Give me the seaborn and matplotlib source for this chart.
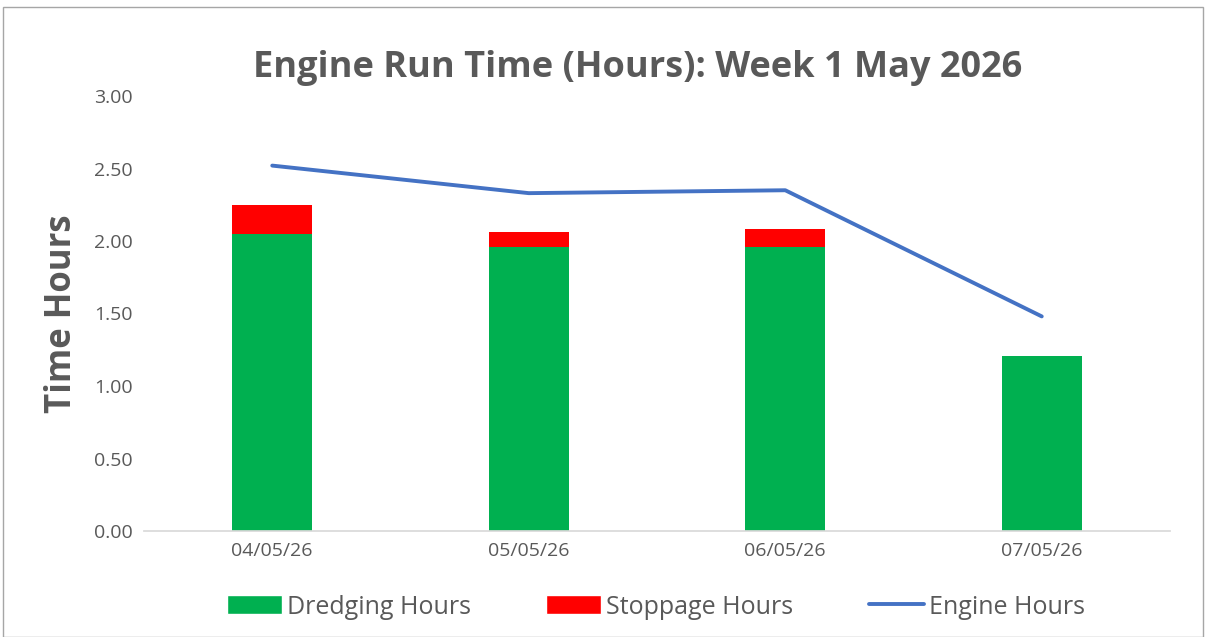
import matplotlib
matplotlib.use("Agg")
import matplotlib.pyplot as plt
from matplotlib.patches import Patch, Rectangle
from matplotlib.lines import Line2D
import seaborn as sns

dates = ["04/05/26", "05/05/26", "06/05/26", "07/05/26"]
dredging_hours = [2.05, 1.96, 1.96, 1.21]
stoppage_hours = [0.20, 0.10, 0.12, 0.00]
engine_hours = [2.52, 2.33, 2.35, 1.48]

green = "#00b050"
red = "#ff0000"
blue = "#4472c4"
text_grey = "#595959"

sns.set_theme(style="white")
plt.rcParams["font.family"] = ["Open Sans", "DejaVu Sans"]

fig = plt.figure(figsize=(12.06, 6.37), dpi=100)
ax = fig.add_axes([144 / 1206, 1 - 531 / 637, (1170 - 144) / 1206, (531 - 96) / 637])

totals = [d + s for d, s in zip(dredging_hours, stoppage_hours)]

# stacked bars: draw total in red, then dredging on top in green
sns.barplot(x=dates, y=totals, color=red, width=0.31, saturation=1, linewidth=0, ax=ax)
sns.barplot(x=dates, y=dredging_hours, color=green, width=0.31, saturation=1, linewidth=0, ax=ax)
sns.lineplot(x=list(range(len(dates))), y=engine_hours, color=blue, linewidth=2.8, ax=ax)

ax.set_ylim(0, 3.0)
ax.set_xlim(-0.5, len(dates) - 0.5)
ax.set_yticks([0, 0.5, 1.0, 1.5, 2.0, 2.5, 3.0])
ax.set_yticklabels([f"{v:.2f}" for v in ax.get_yticks()])
ax.tick_params(axis="both", length=0, labelsize=14, labelcolor=text_grey, pad=8)
ax.set_xlabel("")
ax.set_ylabel("Time Hours", fontsize=25, fontweight="bold", color=text_grey, labelpad=10)

for side in ["top", "right", "left"]:
    ax.spines[side].set_visible(False)
ax.spines["bottom"].set_color("#d9d9d9")

fig.text(638 / 1206, 1 - 68 / 637, "Engine Run Time (Hours): Week 1 May 2026",
         ha="center", va="center", fontsize=26, fontweight="bold", color=text_grey)

handles = [
    Patch(facecolor=green, label="Dredging Hours"),
    Patch(facecolor=red, label="Stoppage Hours"),
    Line2D([0], [0], color=blue, linewidth=2.8, label="Engine Hours"),
]
leg = fig.legend(handles=handles, loc="center", bbox_to_anchor=(656 / 1206, 1 - 607 / 637),
                 ncol=3, frameon=False, fontsize=18, handlelength=2.2, handleheight=0.8,
                 columnspacing=3.0, handletextpad=0.2)
for t in leg.get_texts():
    t.set_color(text_grey)

fig.add_artist(Rectangle((3 / 1206, 0), 1200 / 1206, 1 - 7 / 637, transform=fig.transFigure,
                         fill=False, edgecolor="#a6a6a6", linewidth=1))

fig.savefig("out.png", dpi=100)
